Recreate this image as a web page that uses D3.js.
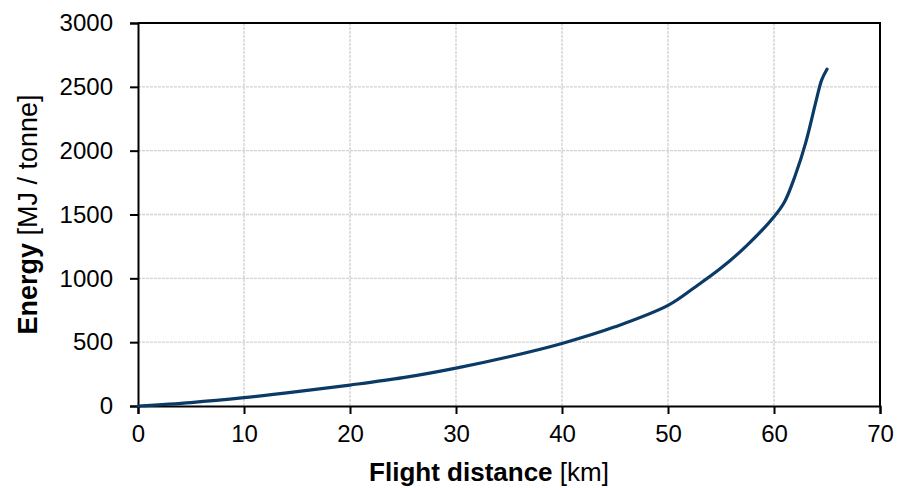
<!DOCTYPE html>
<html>
<head>
<meta charset="utf-8">
<script src="https://cdn.jsdelivr.net/npm/d3@7"></script>
<style>
  html, body { margin: 0; padding: 0; background: #fff; }
  svg { display: block; }
  text { font-family: "Liberation Sans", Arial, sans-serif; fill: #000; }
</style>
</head>
<body>
<svg id="chart" width="901" height="488"></svg>
<script>
// Energy required per tonne of payload versus flight distance
const distanceKm = [0, 5, 10, 15, 20, 25, 30, 35, 40, 45, 50, 52.5, 55, 57.5, 60, 61, 62, 63, 64, 64.5, 65];
const energyMJ   = [0, 27, 65, 112, 164, 222, 297, 386, 490, 620, 788, 928, 1080, 1262, 1482, 1600, 1805, 2065, 2400, 2555, 2638];

const xTicks = [0, 10, 20, 30, 40, 50, 60, 70];
const yTicks = [0, 500, 1000, 1500, 2000, 2500, 3000];

const plot = { left: 138, right: 880, top: 23, bottom: 406 };

const svg = d3.select("#chart");

const x = d3.scaleLinear().domain([0, 70]).range([plot.left, plot.right]);
const y = d3.scaleLinear().domain([0, 3000]).range([plot.bottom, plot.top]);

// grid
const grid = svg.append("g").attr("stroke", "#d3d3d3").attr("stroke-width", 1.4)
  .attr("stroke-dasharray", "3,1");
grid.selectAll("line.vx").data(xTicks.slice(1, -1)).join("line")
  .attr("x1", d => x(d)).attr("x2", d => x(d))
  .attr("y1", plot.top).attr("y2", plot.bottom);
grid.selectAll("line.hy").data(yTicks.slice(1, -1)).join("line")
  .attr("x1", plot.left).attr("x2", plot.right)
  .attr("y1", d => y(d)).attr("y2", d => y(d));

// frame on the top and right
svg.append("path")
  .attr("d", `M${plot.left},${plot.top}H${plot.right}V${plot.bottom}`)
  .attr("fill", "none").attr("stroke", "#000").attr("stroke-width", 2);

// axes
const xAxis = svg.append("g")
  .attr("transform", `translate(0,${plot.bottom})`)
  .call(d3.axisBottom(x).tickValues(xTicks).tickSize(8).tickPadding(11).tickFormat(d3.format("d")));
const yAxis = svg.append("g")
  .attr("transform", `translate(${plot.left},0)`)
  .call(d3.axisLeft(y).tickValues(yTicks).tickSize(8).tickPadding(17).tickFormat(d3.format("d")));

[xAxis, yAxis].forEach(g => {
  g.select(".domain").attr("stroke", "#000").attr("stroke-width", 2);
  g.selectAll(".tick line").attr("stroke", "#000").attr("stroke-width", 2);
  g.selectAll(".tick text")
    .attr("font-family", "'Liberation Sans', Arial, sans-serif")
    .attr("font-size", 24).attr("fill", "#000");
});

// curve
const line = d3.line()
  .x((d, i) => x(distanceKm[i]))
  .y(d => y(d))
  .curve(d3.curveCatmullRom.alpha(0.5));

svg.append("path")
  .datum(energyMJ)
  .attr("d", line)
  .attr("fill", "none")
  .attr("stroke", "#0b3a66")
  .attr("stroke-width", 3.2)
  .attr("stroke-linecap", "round");

// axis titles
const xt = svg.append("text")
  .attr("x", 489).attr("y", 481)
  .attr("text-anchor", "middle")
  .attr("font-size", 26);
xt.append("tspan").attr("font-weight", "bold").text("Flight distance ");
xt.append("tspan").text("[km]");

const yt = svg.append("text")
  .attr("transform", `translate(37,${(plot.top + plot.bottom) / 2}) rotate(-90)`)
  .attr("text-anchor", "middle")
  .attr("font-size", 27);
yt.append("tspan").attr("font-weight", "bold").text("Energy ");
yt.append("tspan").text("[MJ / tonne]");
</script>
</body>
</html>
